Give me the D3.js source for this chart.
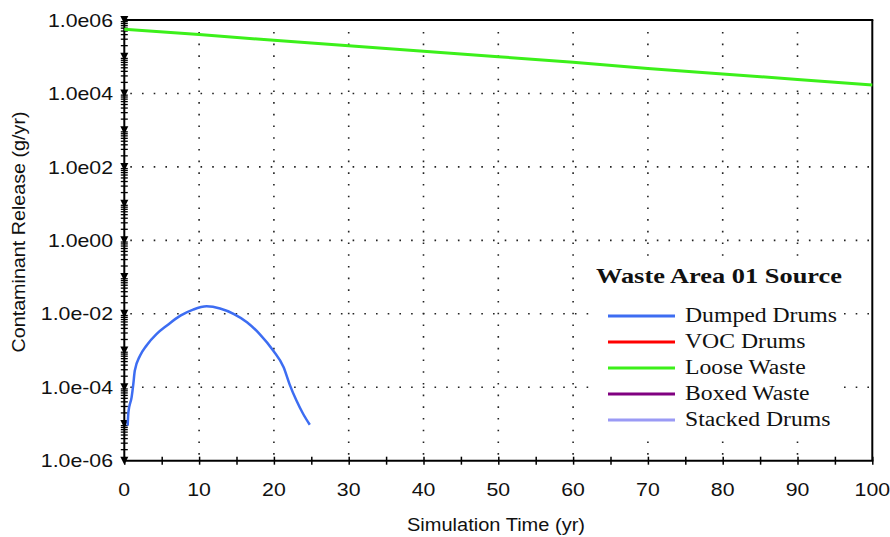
<!DOCTYPE html>
<html><head><meta charset="utf-8">
<script src="https://cdn.jsdelivr.net/npm/d3@7"></script>
<style>body{margin:0;background:#fff}svg{display:block}</style>
</head><body>
<svg id="c" width="890" height="537"></svg>
<script>
// ---- data ----
const xTickValues = [0,10,20,30,40,50,60,70,80,90,100];
const xMinorTicks = [0,5,10,15,20,25,30,35,40,45,50,55,60,65,70,75,80,85,90,95,100];
const yTickValues = [1e6,1e4,1e2,1,1e-2,1e-4,1e-6];
const yTickLabels = ["1.0e06","1.0e04","1.0e02","1.0e00","1.0e-02","1.0e-04","1.0e-06"];
const looseYears  = [0,10,20,30,40,50,60,70,80,90,100];
const looseValues = [5.6e5,4.0e5,2.8e5,2.0e5,1.4e5,1.0e5,7.1e4,4.8e4,3.4e4,2.4e4,1.7e4];
const dumpedYears  = [0.45,0.55,0.98,1.2,1.4,2.1,3.0,4.3,5.7,7.5,9.2,11.0,12.8,14.6,16.4,18.1,19.9,21.3,22.1,23.0,23.9,24.8];
const dumpedValues = [9e-6,2.1e-5,5.4e-5,1.2e-4,2.8e-4,7.2e-4,1.4e-3,2.8e-3,4.8e-3,8.9e-3,1.3e-2,1.6e-2,1.4e-2,1.0e-2,5.9e-3,2.8e-3,1.0e-3,3.5e-4,1.2e-4,4.4e-5,1.9e-5,9.5e-6];
const legendTitle = "Waste Area 01 Source";
const legendNames  = ["Dumped Drums","VOC Drums","Loose Waste","Boxed Waste","Stacked Drums"];
const legendColors = ["#3d6df2","#ff0000","#3cf01a","#800080","#9a9af5"];
const xTitle = "Simulation Time (yr)";
const yTitle = "Contaminant Release (g/yr)";

// ---- layout ----
const svg = d3.select("#c");
const L = 124.3, R = 872.3, T = 20, B = 460.7;
const STRETCH = 1.15;
const x = d3.scaleLinear().domain([0,100]).range([L,R]);
const y = d3.scaleLog().domain([1e-6,1e6]).range([B,T]);

function stretch(sel, factor){
  const lens = sel.nodes().map(n=>n.getComputedTextLength());
  sel.each(function(d,i){
    d3.select(this).attr("textLength", lens[i]*factor).attr("lengthAdjust","spacingAndGlyphs");
  });
}

// grid
const grid = svg.append("g").attr("stroke","#222").attr("stroke-width",1.6).attr("stroke-dasharray","1.6,10.1");
grid.selectAll(".gv").data(xTickValues.filter(v=>v>0&&v<100)).enter().append("line")
  .attr("x1",d=>x(d)).attr("x2",d=>x(d)).attr("y1",B-6).attr("y2",T+2);
grid.selectAll(".gh").data(yTickValues.filter(v=>v>1e-6&&v<1e6)).enter().append("line")
  .attr("y1",d=>y(d)).attr("y2",d=>y(d)).attr("x1",L+6).attr("x2",R-2);

// frame
svg.append("line").attr("x1",L).attr("x2",R+1).attr("y1",T).attr("y2",T).attr("stroke","#000").attr("stroke-width",2);
svg.append("line").attr("x1",R).attr("x2",R).attr("y1",T).attr("y2",B).attr("stroke","#000").attr("stroke-width",2);

// x axis
const xAxis = svg.append("g").attr("transform",`translate(0,${B})`)
  .call(d3.axisBottom(x).tickValues(xMinorTicks).tickSize(0).tickFormat(""));
xAxis.select(".domain").attr("stroke","#000").attr("stroke-width",2).attr("d",`M${L},0H${R+1}`);
xAxis.selectAll(".tick line").attr("y1",-4).attr("y2",4).attr("stroke","#000").attr("stroke-width",1.5);
const xl = svg.append("g").selectAll("text").data(xTickValues).enter().append("text")
  .attr("x",d=>x(d)).attr("y",496).attr("text-anchor","middle")
  .attr("font-family","Arial, 'Liberation Sans', sans-serif").attr("font-size",18.5).attr("fill","#111")
  .text(d=>d);
stretch(xl, STRETCH);

// y axis
const yAxis = svg.append("g").attr("transform",`translate(${L},0)`)
  .call(d3.axisLeft(y).tickValues(yTickValues).tickSize(0).tickFormat(""));
yAxis.select(".domain").attr("stroke","#000").attr("stroke-width",2).attr("d",`M0,${B+1}V${T-1}`);
const minor = [];
for (let e=-6;e<6;e++) for (let m=2;m<=9;m++) minor.push(m*Math.pow(10,e));
svg.append("g").selectAll("line").data(minor).enter().append("line")
  .attr("x1",L-3.5).attr("x2",L+3.5).attr("y1",d=>y(d)).attr("y2",d=>y(d))
  .attr("stroke","#000").attr("stroke-width",1.3);
const decades = d3.range(-6,7).map(e=>Math.pow(10,e));
svg.append("g").selectAll("path").data(decades).enter().append("path")
  .attr("d",d=>`M${L-4},${y(d)-4}H${L+4}L${L},${y(d)+4}Z`).attr("fill","#000");
const yl = svg.append("g").selectAll("text").data(yTickValues).enter().append("text")
  .attr("x",113).attr("y",d=>y(d)).attr("dy","0.36em").attr("text-anchor","end")
  .attr("font-family","Arial, 'Liberation Sans', sans-serif").attr("font-size",18.5).attr("fill","#111")
  .text((d,i)=>yTickLabels[i]);
stretch(yl, STRETCH);

// titles
const xt = svg.append("text").attr("x",496).attr("y",531).attr("text-anchor","middle")
  .attr("font-family","Arial, 'Liberation Sans', sans-serif").attr("font-size",17.5).attr("fill","#111").text(xTitle);
xt.attr("textLength",178).attr("lengthAdjust","spacingAndGlyphs");
const yt = svg.append("text").attr("transform","translate(25,232) rotate(-90)").attr("text-anchor","middle")
  .attr("font-family","Arial, 'Liberation Sans', sans-serif").attr("font-size",18).attr("fill","#111").text(yTitle);
yt.attr("textLength",241).attr("lengthAdjust","spacingAndGlyphs");

// series
const line = d3.line().x(d=>x(d[0])).y(d=>y(d[1]));
svg.append("path").datum(looseYears.map((t,i)=>[t,looseValues[i]]))
  .attr("d",line).attr("fill","none").attr("stroke",legendColors[2]).attr("stroke-width",3);
svg.append("path").datum(dumpedYears.map((t,i)=>[t,dumpedValues[i]]))
  .attr("d",line.curve(d3.curveMonotoneX)).attr("fill","none").attr("stroke",legendColors[0]).attr("stroke-width",2.5).attr("stroke-linejoin","round");

// legend
const lg = svg.append("g");
lg.append("rect").attr("x",594).attr("y",262).attr("width",249).attr("height",174).attr("fill","#fff");
const lt = lg.append("text").attr("x",596).attr("y",283).attr("font-family","'Times New Roman','Liberation Serif',serif")
  .attr("font-weight","bold").attr("font-size",22).attr("fill","#111").text(legendTitle);
lt.attr("textLength",246).attr("lengthAdjust","spacingAndGlyphs");
const items = lg.selectAll(".it").data(legendNames).enter().append("g")
  .attr("transform",(d,i)=>`translate(0,${316+i*26})`);
items.append("line").attr("x1",608).attr("x2",675).attr("y1",0).attr("y2",0)
  .attr("stroke",(d,i)=>legendColors[i]).attr("stroke-width",3);
const it = items.append("text").attr("x",685).attr("y",5.5)
  .attr("font-family","'Times New Roman','Liberation Serif',serif").attr("font-size",20.5).attr("fill","#111").text(d=>d);
const firstLen = it.nodes()[0].getComputedTextLength();
stretch(it, 152/firstLen);
</script>
</body></html>
